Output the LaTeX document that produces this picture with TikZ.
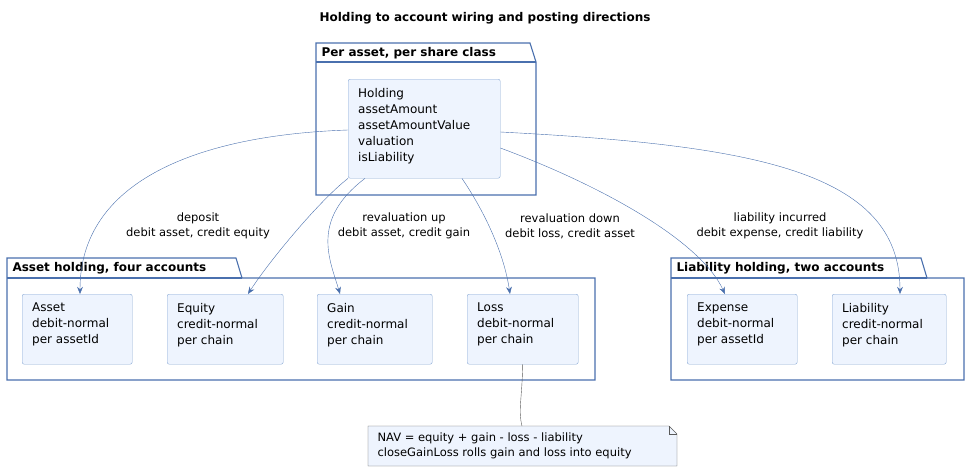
\documentclass[tikz,border=0pt]{standalone}
\usepackage{fontspec}
\setmainfont{DejaVu Sans}
\usetikzlibrary{arrows.meta, positioning, shapes}
\definecolor{edge}{HTML}{4A70AE}
\definecolor{boxfill}{HTML}{EEF4FE}
\definecolor{boxline}{HTML}{8AAAD6}
\begin{document}
\begin{tikzpicture}[
    x=1pt, y=-1pt,
    font=\fontsize{12}{16}\selectfont,
    acct/.style={rectangle, rounded corners=2pt, draw=boxline, fill=boxfill, align=left, anchor=north west, inner sep=0pt},
    pkg/.style={draw=edge, line width=1.1pt, fill=white},
    lbl/.style={align=center, font=\fontsize{11.5}{15}\selectfont},
    arrow/.style={-{Stealth[length=2.5mm, width=2mm]}, draw=edge, thin}
  ]
    \useasboundingbox (0,0) rectangle (970,472);
    \node[font=\bfseries\fontsize{12}{14}\selectfont] (title) at (485,18) {Holding to account wiring and posting directions};

    % packages
    \draw[pkg] (316,64) -- (316,43) -- (530,43) -- (536,62) -- (536,195) -- (316,195) -- cycle;
    \draw[edge, line width=1.1pt] (316,62) -- (536,62);
    \node[anchor=west, font=\bfseries\fontsize{12}{14}\selectfont] (ptop) at (318,53) {Per asset, per share class};

    \draw[pkg] (7,280) -- (7,258) -- (236,258) -- (242,278) -- (595,278) -- (595,380) -- (7,380) -- cycle;
    \draw[edge, line width=1.1pt] (7,278) -- (242,278);
    \node[anchor=west, font=\bfseries\fontsize{12}{14}\selectfont] (passet) at (9,268) {Asset holding, four accounts};

    \draw[pkg] (671,280) -- (671,258) -- (921,258) -- (927,278) -- (964,278) -- (964,380) -- (671,380) -- cycle;
    \draw[edge, line width=1.1pt] (671,278) -- (927,278);
    \node[anchor=west, font=\bfseries\fontsize{12}{14}\selectfont] (pliab) at (673,268) {Liability holding, two accounts};

    % accounts
    \node[acct, minimum width=152pt, minimum height=99pt] (holding) at (348,79) {};
    \node[anchor=north west, align=left, inner sep=0pt] (htext) at (358,88) {Holding\\assetAmount\\assetAmountValue\\valuation\\isLiability};

    \foreach \name/\x/\w/\first/\second/\third in {
        asset/22/110/Asset/debit-normal/per assetId,
        equity/167/116/Equity/credit-normal/per chain,
        gain/317/115/Gain/credit-normal/per chain,
        loss/467/111/Loss/debit-normal/per chain,
        expense/687/110/Expense/debit-normal/per assetId,
        liability/832/114/Liability/credit-normal/per chain} {
      \node[acct, minimum width=\w pt, minimum height=70pt] (\name) at (\x,294) {};
      \node[anchor=north west, align=left, inner sep=0pt] at (\x+10,303) {\first\\\second\\\third};
    }

    % note
    \draw[fill=boxfill, draw=gray!70!black, thin] (368,426) -- (669,426) -- (677,434) -- (677,466) -- (368,466) -- cycle;
    \draw[gray!70!black, thin] (669,426) -- (669,434) -- (677,434);
    \node[anchor=west, align=left, font=\fontsize{11.5}{15}\selectfont] (note) at (374,446) {NAV = equity + gain - loss - liability\\closeGainLoss rolls gain and loss into equity};
    \coordinate (notetop) at (522,426);
    \draw[gray!70!black, thin] (loss.south) .. controls (522,400) and (518,410) .. (notetop);

    % postings
    \draw[arrow] (holding.west |- 0,130) .. controls (200,135) and (80,180) .. (asset.north -| 80,0);
    \draw[arrow] (holding.south west) .. controls (320,200) and (270,260) .. (equity.north east -| 248,0);
    \draw[arrow] (holding.south -| 365,0) .. controls (310,220) and (330,260) .. (gain.north west -| 340,0);
    \draw[arrow] (holding.south -| 462,0) .. controls (490,220) and (505,260) .. (loss.north west -| 510,0);
    \draw[arrow] (holding.east |- 0,148) .. controls (600,185) and (700,240) .. (expense.north west -| 725,0);
    \draw[arrow] (holding.east |- 0,132) .. controls (750,145) and (900,170) .. (liability.north west -| 900,0);

    \node[lbl] (ldep) at (198,226) {deposit\\debit asset, credit equity};
    \node[lbl] (lup) at (404,226) {revaluation up\\debit asset, credit gain};
    \node[lbl] (ldown) at (570,226) {revaluation down\\debit loss, credit asset};
    \node[lbl] (linc) at (780,226) {liability incurred\\debit expense, credit liability};
  \end{tikzpicture}
\end{document}
